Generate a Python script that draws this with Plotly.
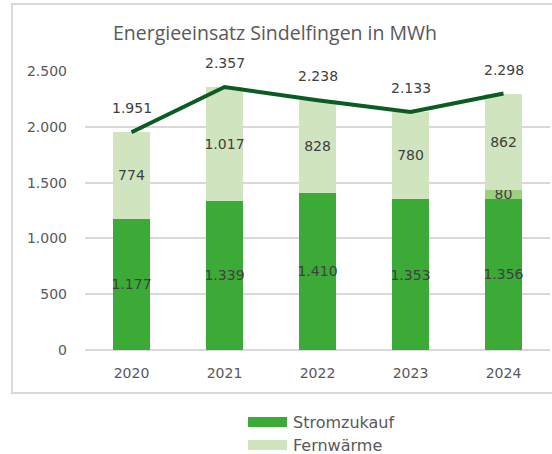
import plotly.graph_objects as go

years = ["2020", "2021", "2022", "2023", "2024"]
strom = [1177, 1339, 1410, 1353, 1356]
eigen = [0, 0, 0, 0, 80]
fern = [774, 1017, 828, 780, 862]
totals = [1951, 2357, 2238, 2133, 2298]

name_strom = "Stromzukauf"
name_eigen = "Eigenerzeugung"
name_fern = "Fernwärme"
title = "Energieeinsatz Sindelfingen in MWh"

c_strom = "#3CAA36"
c_eigen = "#9ECF7F"
c_fern = "#CFE4BF"
c_line = "#0A5C23"
c_lab = "#404040"
c_tick = "#595959"
FONT = "DejaVu Sans"


def de(v):
    return f"{v:,}".replace(",", ".")


fig = go.Figure()
for name, vals, col in [(name_strom, strom, c_strom), (name_eigen, eigen, c_eigen), (name_fern, fern, c_fern)]:
    fig.add_trace(go.Bar(
        x=years, y=vals, name=name, marker=dict(color=col, line=dict(width=0)),
        width=0.4,
        text=[de(v) if v > 0 else "" for v in vals],
        textposition="inside", insidetextanchor="middle", textangle=0,
        constraintext="none", cliponaxis=False,
        textfont=dict(family=FONT, size=14, color=c_lab),
        showlegend=False, hoverinfo="skip",
    ))

fig.add_trace(go.Scatter(
    x=years, y=totals, mode="lines", line=dict(color=c_line, width=4),
    name="Gesamt", showlegend=False, cliponaxis=False, hoverinfo="skip",
))

for i, v in enumerate(totals):
    fig.add_annotation(x=i, y=v, xref="x", yref="y", text=de(v), showarrow=False, yshift=24,
                       font=dict(family=FONT, size=14, color=c_lab))

# chart border
fig.add_shape(type="rect", xref="paper", yref="paper",
              x0=(12 - 85) / 465, x1=1.05, y0=(350 - 393) / 279, y1=(350 - 4) / 279,
              line=dict(color="#D9D9D9", width=2), fillcolor="rgba(0,0,0,0)", layer="below")

# manual legend
for i, (name, col) in enumerate([(name_strom, c_strom), (name_fern, c_fern)]):
    yc = 422 + i * 23
    fig.add_shape(type="rect", xref="paper", yref="paper",
                  x0=(248 - 85) / 465, x1=(287 - 85) / 465,
                  y0=(350 - (yc + 5)) / 279, y1=(350 - (yc - 5)) / 279,
                  line=dict(width=0), fillcolor=col)
    fig.add_annotation(xref="paper", yref="paper", x=(291 - 85) / 465, y=(350 - yc) / 279,
                       xanchor="left", yanchor="middle", text=name, showarrow=False,
                       font=dict(family=FONT, size=16, color=c_tick))

fig.update_layout(
    width=552, height=454,
    margin=dict(l=85, r=2, t=71, b=104, autoexpand=False),
    paper_bgcolor="white", plot_bgcolor="white",
    barmode="stack", separators=",.",
    title=dict(text=title, x=275 / 552, xanchor="center",
               y=1 - 33 / 454, yanchor="middle",
               font=dict(family="Open Sans", size=19.5, color=c_tick)),
    xaxis=dict(type="category", range=[-0.5, 4.5], showgrid=False, showline=False, ticks="",
               ticklabelstandoff=13, automargin=False,
               tickfont=dict(family=FONT, size=14, color=c_tick)),
    yaxis=dict(range=[0, 2500], dtick=500, tickformat=",d", gridcolor="#D9D9D9", gridwidth=1.5,
               zeroline=True, zerolinecolor="#D9D9D9", zerolinewidth=1.5,
               showline=False, ticks="", ticklabelstandoff=17, automargin=False,
               tickfont=dict(family=FONT, size=14, color=c_tick)),
)

fig.write_html("out.html", config={"displayModeBar": False},
               post_script="document.body.style.margin='0';")
